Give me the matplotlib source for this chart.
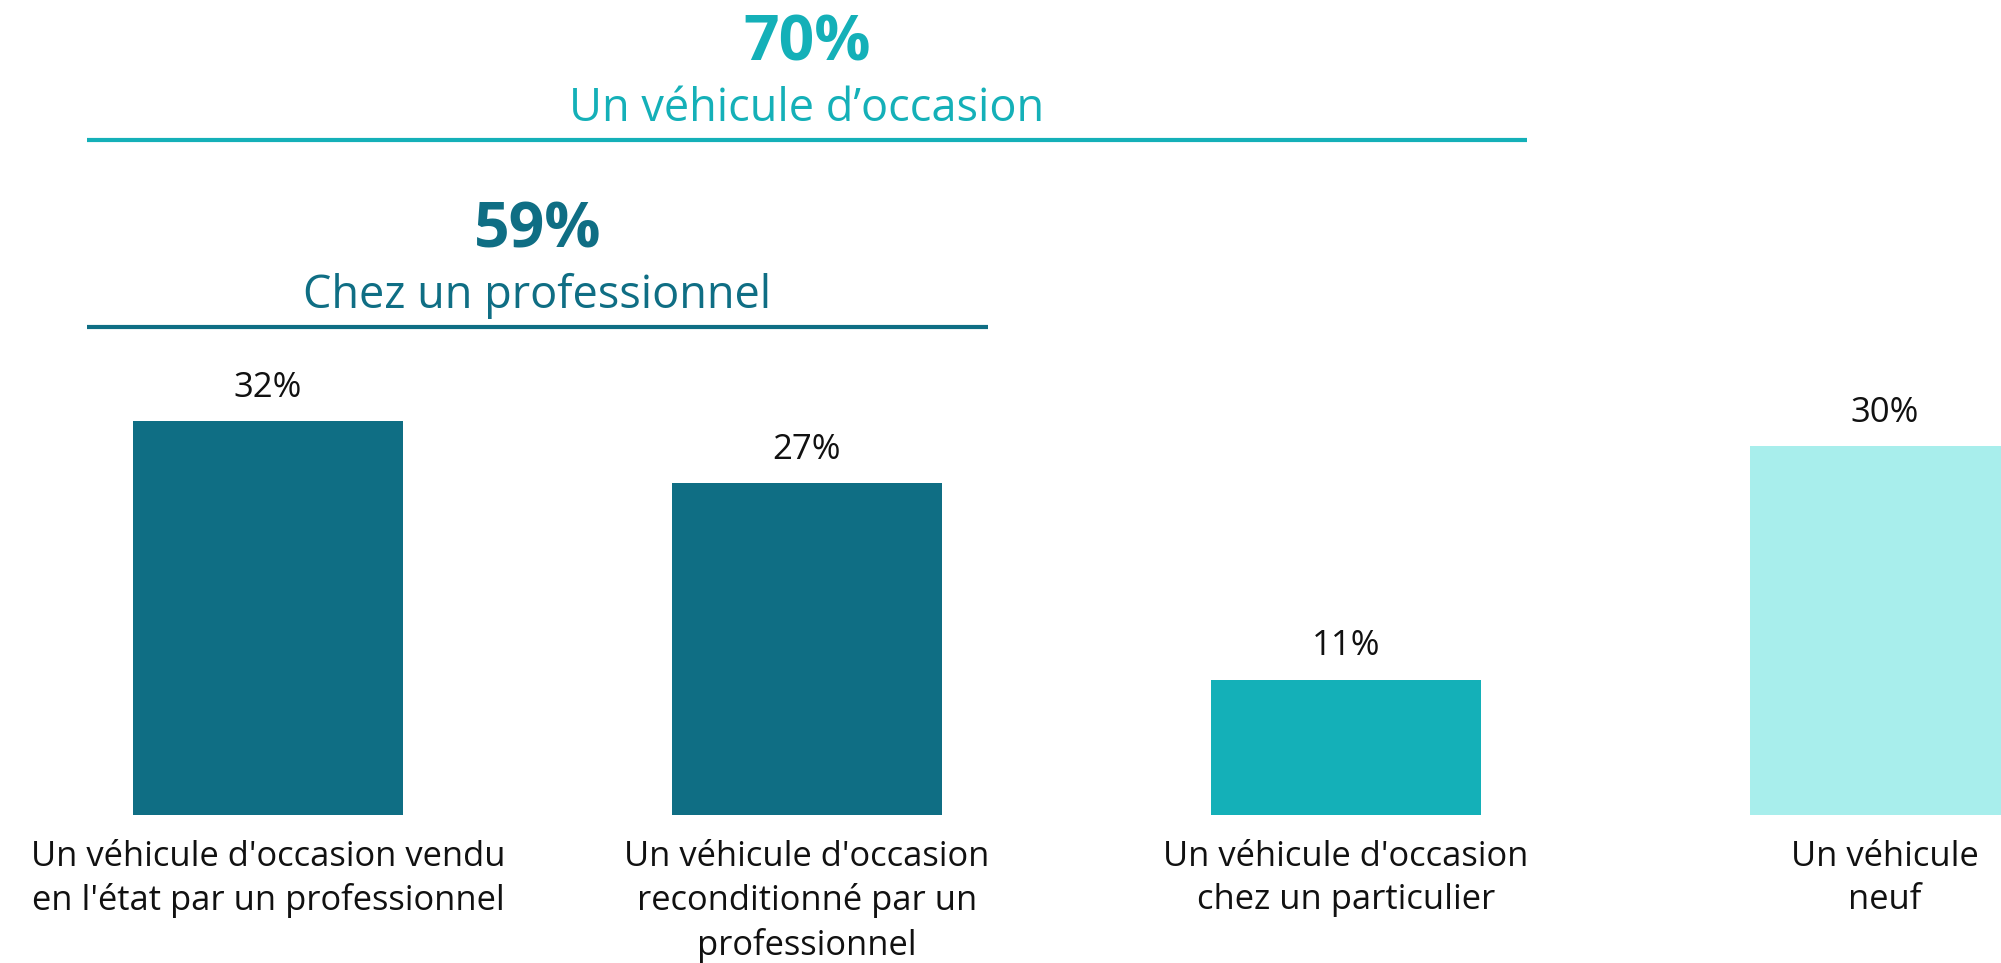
import matplotlib.pyplot as plt

plt.rcParams['font.family'] = ['Open Sans', 'Noto Sans', 'DejaVu Sans']

# data
categories = [
    "Un véhicule d'occasion vendu\nen l'état par un professionnel",
    "Un véhicule d'occasion\nreconditionné par un\nprofessionnel",
    "Un véhicule d'occasion\nchez un particulier",
    "Un véhicule\nneuf",
]
values = [32, 27, 11, 30]
bar_colors = ['#0F6E84', '#0F6E84', '#14B0B8', '#A8EEEC']

# grouping headers
group_pct = ['70%', '59%']
group_names = ["Un véhicule d’occasion", "Chez un professionnel"]
group_span = [(0, 2), (0, 1)]
group_colors = ['#14B0B8', '#0F6E84']

fig = plt.figure(figsize=(20.01, 9.63), dpi=100)
ax = fig.add_axes([0, 0, 1, 1])

width = 0.5
xs = range(len(values))
ax.bar(xs, values, width=width, color=bar_colors)

for x, v in zip(xs, values):
    ax.annotate(f'{v}%', xy=(x, v), xytext=(0, 24), textcoords='offset points',
                ha='center', va='center', fontsize=25, color='#111111')
    ax.annotate(categories[x], xy=(x, 0), xytext=(0, -18), textcoords='offset points',
                ha='center', va='top', fontsize=24.8, color='#111111', linespacing=1.35)

# header lines and texts
line_y = [54.9, 39.7]
for pct, name, (a, b), col, ly in zip(group_pct, group_names, group_span, group_colors, line_y):
    x0 = a - width / 2 - 0.085
    x1 = b + width / 2 + 0.085
    ax.plot([x0, x1], [ly, ly], color=col, lw=3, solid_capstyle='butt')
    xc = (x0 + x1) / 2
    ax.text(xc, ly + 2.5, name, ha='center', va='center', fontsize=32.5, color=col)
    ax.text(xc, ly + 7.8, pct, ha='center', va='center', fontsize=45,
            fontweight='bold', color=col)

ax.set_xlim(-0.497, 3.215)
ax.set_ylim(-12.03, 66.26)
ax.axis('off')

fig.savefig('out.png', dpi=100)
